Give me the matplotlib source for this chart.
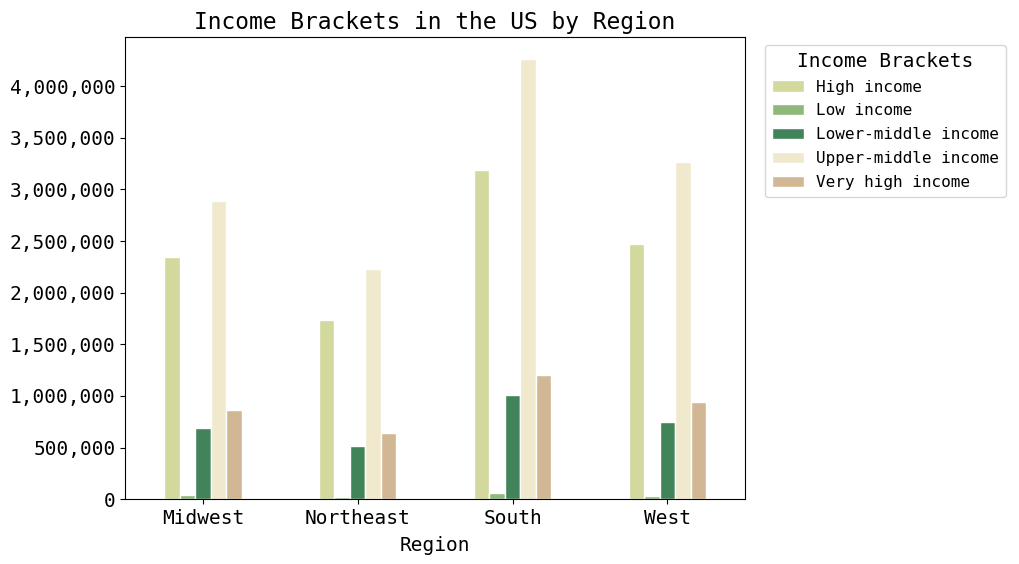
import matplotlib
matplotlib.use("Agg")
import matplotlib.pyplot as plt
import numpy as np
from matplotlib.ticker import FuncFormatter

plt.rcParams['font.family'] = ['DejaVu Sans Mono']

regions = ["Midwest", "Northeast", "South", "West"]
brackets = ["High income", "Low income", "Lower-middle income",
            "Upper-middle income", "Very high income"]
high_income = [2350000, 1738000, 3184000, 2476000]
low_income = [40000, 20000, 55000, 30000]
lower_middle = [686000, 515000, 1010000, 748000]
upper_middle = [2893000, 2233000, 4262000, 3270000]
very_high = [864000, 641000, 1204000, 942000]
colors = ["#d3d89d", "#8fb87b", "#42845a", "#f0e9cd", "#d1b793"]

series = [high_income, low_income, lower_middle, upper_middle, very_high]

fig, ax = plt.subplots(figsize=(10.19, 5.64), dpi=100)
x = np.arange(len(regions))
w = 0.1
for i, (name, vals) in enumerate(zip(brackets, series)):
    ax.bar(x + (i - 2) * w, vals, width=w, color=colors[i], edgecolor="white",
           linewidth=1, label=name)

ax.set_xlim(-0.5, len(regions) - 0.5)
ax.set_xticks(x)
ax.set_xticklabels(regions, fontsize=14)
ax.tick_params(axis='y', labelsize=14)
ax.yaxis.set_major_formatter(FuncFormatter(lambda v, p: f"{int(v):,}"))
ax.set_xlabel("Region", fontsize=14, labelpad=6)
ax.set_title("Income Brackets in the US by Region", fontsize=16.5)
leg = ax.legend(title="Income Brackets", loc="upper left", bbox_to_anchor=(1.02, 1.0),
                fontsize=11.5, title_fontsize=14, labelspacing=0.56)

fig.subplots_adjust(left=0.123, right=0.731, top=0.934, bottom=0.115)
fig.savefig("out.png", dpi=100)
